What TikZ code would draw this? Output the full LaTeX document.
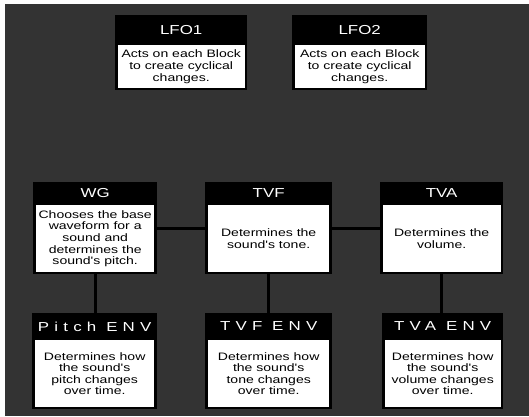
\documentclass[tikz,border=0pt]{standalone}
\usepackage{fontspec}
\newfontfamily\boxfont[FakeStretch=1.3]{Liberation Sans}
\newfontfamily\envfont[FakeStretch=1.3,LetterSpace=40]{Liberation Sans}
\usetikzlibrary{positioning,calc}

\begin{document}
\begin{tikzpicture}[x=1pt, y=-1pt,
    blk/.style   = {fill=black, inner sep=0pt, anchor=north west},
    body/.style  = {fill=white, inner sep=1pt, align=center, anchor=south,
                    font=\boxfont\fontsize{10.8}{11.6}\selectfont},
    ttl/.style   = {text=white, inner sep=0pt, font=\boxfont\fontsize{13}{13}\selectfont},
    envttl/.style= {ttl, font=\envfont\fontsize{13}{13}\selectfont},
    link/.style  = {line width=3pt, black}]
  \useasboundingbox (0,0) rectangle (529,416);
  \fill[black!80] (5,4) rectangle (529,416);

  % LFO row
  \node[blk, minimum width=132, minimum height=75] (lfo1) at (115,15) {};
  \node[body, minimum width=127, minimum height=43] (lfo1txt) at ([yshift=2]lfo1.south)
    {Acts on each Block\\to create cyclical\\changes.};
  \node[ttl] (lfo1ttl) at ($(lfo1.north)!0.5!(lfo1txt.north)$) {LFO1};

  \node[blk, minimum width=135, minimum height=75] (lfo2) at (292,15) {};
  \node[body, minimum width=130, minimum height=43] (lfo2txt) at ([yshift=2]lfo2.south)
    {Acts on each Block\\to create cyclical\\changes.};
  \node[ttl] (lfo2ttl) at ($(lfo2.north)!0.5!(lfo2txt.north)$) {LFO2};

  % WG / TVF / TVA
  \node[blk, minimum width=124, minimum height=92] (wg) at (33,182) {};
  \node[body, minimum width=118, minimum height=67] (wgtxt) at ([yshift=2]wg.south)
    {Chooses the base\\waveform for a\\sound and\\determines the\\sound's pitch.};
  \node[ttl] (wgttl) at ($(wg.north)!0.5!(wgtxt.north)$) {WG};

  \node[blk, minimum width=127, minimum height=92] (tvf) at (205,182) {};
  \node[body, minimum width=121, minimum height=67] (tvftxt) at ([yshift=2]tvf.south)
    {Determines the\\sound's tone.};
  \node[ttl] (tvfttl) at ($(tvf.north)!0.5!(tvftxt.north)$) {TVF};

  \node[blk, minimum width=123, minimum height=92] (tva) at (380,182) {};
  \node[body, minimum width=118, minimum height=67] (tvatxt) at ([yshift=2]tva.south)
    {Determines the\\volume.};
  \node[ttl] (tvattl) at ($(tva.north)!0.5!(tvatxt.north)$) {TVA};

  % envelopes
  \node[blk, minimum width=125, minimum height=96] (penv) at (32,313) {};
  \node[body, minimum width=119, minimum height=67] (penvtxt) at ([yshift=2]penv.south)
    {Determines how\\the sound's\\pitch changes\\over time.};
  \node[envttl] (penvttl) at ($(penv.north)!0.5!(penvtxt.north)$) {Pitch ENV};

  \node[blk, minimum width=127, minimum height=96] (fenv) at (205,313) {};
  \node[body, minimum width=121, minimum height=67] (fenvtxt) at ([yshift=2]fenv.south)
    {Determines how\\the sound's\\tone changes\\over time.};
  \node[envttl] (fenvttl) at ($(fenv.north)!0.5!(fenvtxt.north)$) {TVF ENV};

  \node[blk, minimum width=121, minimum height=96] (aenv) at (382,313) {};
  \node[body, minimum width=116, minimum height=67] (aenvtxt) at ([yshift=2]aenv.south)
    {Determines how\\the sound's\\volume changes\\over time.};
  \node[envttl] (aenvttl) at ($(aenv.north)!0.5!(aenvtxt.north)$) {TVA ENV};

  % links
  \draw[link] (wg) -- (tvf);
  \draw[link] (tvf) -- (tva);
  \foreach \a/\b in {wg/penv, tvf/fenv, tva/aenv}
    \draw[link] (\a.south) -- (\a.south |- \b.north);
\end{tikzpicture}
\end{document}
